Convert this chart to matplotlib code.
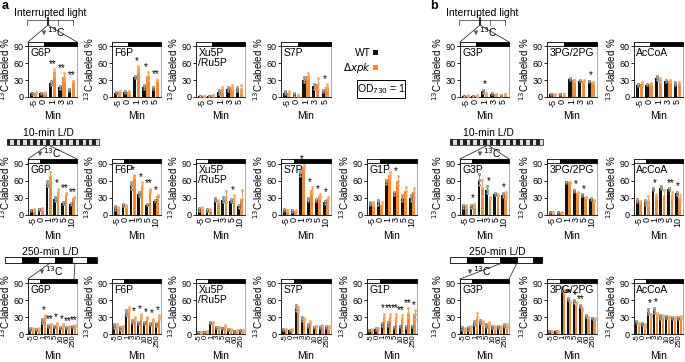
import numpy as np
import matplotlib.pyplot as plt
from matplotlib.patches import Rectangle

plt.rcParams['font.family'] = ['Liberation Sans', 'DejaVu Sans']

# --- Data (13C-labeled %, mean and spread) ---
min_il = ["-5", "0", "1", "3", "5"]
min_10 = ["-5", "0", "1", "3", "5", "10"]
min_250 = ["-5", "0", "1", "3", "5", "10", "60", "250"]

# interrupted light
wt_il = {"G6P": [7, 7, 25, 17, 12], "F6P": [8, 9, 35, 18, 16], "Xu5P": [1, 1, 9, 14, 14],
         "S7P": [8, 5, 31, 19, 11], "G3P": [1, 1, 10, 6, 2], "3PG": [5, 5, 32, 29, 28],
         "AcCoA": [22, 22, 34, 28, 24]}
wt_il_err = {"G6P": [1, 1, 3, 3, 2], "F6P": [1, 1, 2, 3, 1], "Xu5P": [1, 1, 3, 3, 3],
             "S7P": [2, 3, 5, 4, 2], "G3P": [1, 1, 3, 1, 1], "3PG": [1, 1, 1, 1, 1],
             "AcCoA": [2, 1, 4, 2, 2]}
ko_il = {"G6P": [8, 8, 45, 36, 28], "F6P": [9, 9, 51, 37, 30], "Xu5P": [1, 3, 14, 18, 15],
         "S7P": [8, 3, 38, 24, 18], "G3P": [2, 2, 6, 5, 5], "3PG": [5, 5, 30, 28, 26],
         "AcCoA": [24, 24, 30, 28, 25]}
ko_il_err = {"G6P": [1, 1, 5, 6, 1], "F6P": [1, 1, 4, 7, 1], "Xu5P": [1, 1, 3, 3, 6],
             "S7P": [2, 1, 5, 10, 5], "G3P": [1, 1, 2, 1, 1], "3PG": [1, 1, 1, 2, 1],
             "AcCoA": [2, 1, 3, 2, 1]}
stars_il = {"G6P": ["", "", "**", "**", "**"], "F6P": ["", "", "*", "*", "**"],
            "S7P": ["", "", "", "", "*"], "G3P": ["", "", "*", "", ""],
            "3PG": ["", "", "", "", "*"]}

# 10-min L/D
wt_10 = {"G6P": [8, 10, 55, 28, 21, 19], "F6P": [12, 17, 52, 37, 18, 25],
         "Xu5P": [10, 9, 27, 27, 25, 15], "S7P": [9, 7, 74, 27, 26, 22],
         "G1P": [20, 22, 58, 38, 30, 30], "G3P": [15, 15, 62, 44, 37, 35],
         "3PG": [5, 5, 57, 42, 35, 28], "AcCoA": [25, 22, 45, 48, 45, 38]}
wt_10_err = {"G6P": [1, 1, 4, 3, 1, 2], "F6P": [3, 2, 6, 3, 1, 1], "Xu5P": [3, 2, 3, 5, 3, 3],
             "S7P": [2, 1, 5, 2, 2, 2], "G1P": [2, 5, 3, 3, 5, 5], "G3P": [3, 3, 9, 6, 2, 4],
             "3PG": [1, 1, 1, 2, 1, 1], "AcCoA": [3, 4, 2, 2, 2, 3]}
ko_10 = {"G6P": [9, 11, 68, 40, 37, 30], "F6P": [10, 16, 68, 52, 43, 33],
         "Xu5P": [10, 9, 25, 32, 30, 28], "S7P": [8, 7, 84, 44, 33, 28],
         "G1P": [20, 18, 70, 60, 42, 40], "G3P": [15, 17, 48, 30, 35, 35],
         "3PG": [5, 5, 57, 39, 31, 26], "AcCoA": [23, 25, 33, 33, 35, 30]}
ko_10_err = {"G6P": [1, 1, 7, 6, 1, 1], "F6P": [4, 2, 2, 5, 3, 2], "Xu5P": [4, 1, 2, 10, 5, 15],
             "S7P": [1, 1, 4, 5, 3, 3], "G1P": [3, 4, 6, 8, 7, 8], "G3P": [3, 3, 14, 2, 2, 5],
             "3PG": [1, 1, 1, 1, 1, 1], "AcCoA": [2, 8, 3, 10, 6, 5]}
stars_10 = {"G6P": ["", "", "", "*", "**", "**"], "F6P": ["", "", "*", "*", "**", "*"],
            "Xu5P": ["", "", "", "", "*", ""], "S7P": ["", "", "*", "*", "*", "*"],
            "G1P": ["", "", "*", "*", "", ""], "G3P": ["", "*", "", "*", "", "*"],
            "3PG": ["", "", "", "*", "*", ""], "AcCoA": ["", "", "*", "", "**", "*"]}

# 250-min L/D
wt_250 = {"G6P": [9, 8, 23, 14, 13, 11, 11, 13], "F6P": [14, 10, 38, 22, 20, 20, 18, 17],
          "Xu5P": [3, 3, 20, 12, 10, 8, 5, 6], "S7P": [8, 7, 46, 27, 15, 12, 13, 13],
          "G1P": [7, 9, 17, 18, 12, 14, 13, 14], "G3P": [10, 10, 20, 22, 15, 12, 12, 15],
          "3PG": [5, 5, 80, 62, 58, 50, 32, 28], "AcCoA": [22, 18, 40, 42, 30, 30, 28, 28]}
wt_250_err = {"G6P": [1, 1, 3, 2, 1, 1, 1, 1], "F6P": [3, 2, 4, 3, 2, 2, 2, 2],
              "Xu5P": [1, 1, 1, 1, 1, 1, 1, 1], "S7P": [1, 1, 5, 3, 2, 1, 2, 2],
              "G1P": [1, 1, 2, 3, 1, 1, 2, 1], "G3P": [2, 2, 4, 3, 2, 2, 2, 2],
              "3PG": [1, 1, 3, 2, 2, 2, 1, 1], "AcCoA": [2, 2, 5, 5, 3, 2, 2, 2]}
ko_250 = {"G6P": [9, 9, 30, 17, 18, 15, 13, 15], "F6P": [15, 12, 45, 28, 32, 28, 25, 30],
          "Xu5P": [3, 4, 20, 12, 14, 8, 6, 6], "S7P": [8, 8, 45, 25, 20, 14, 14, 13],
          "G1P": [8, 10, 30, 30, 30, 28, 38, 35], "G3P": [9, 12, 30, 20, 18, 13, 13, 15],
          "3PG": [5, 5, 75, 57, 55, 45, 30, 27], "AcCoA": [18, 15, 33, 35, 32, 30, 28, 30]}
ko_250_err = {"G6P": [1, 1, 3, 1, 2, 2, 1, 1], "F6P": [2, 2, 4, 3, 3, 2, 2, 3],
              "Xu5P": [1, 1, 1, 1, 2, 1, 1, 1], "S7P": [1, 1, 4, 3, 3, 1, 2, 2],
              "G1P": [1, 1, 6, 6, 6, 6, 8, 8], "G3P": [2, 3, 8, 3, 3, 2, 2, 2],
              "3PG": [1, 1, 3, 2, 2, 2, 1, 1], "AcCoA": [2, 2, 3, 3, 2, 2, 2, 2]}
stars_250 = {"G6P": ["", "", "*", "**", "*", "*", "**", "**"],
             "F6P": ["", "", "", "*", "*", "*", "*", "*"],
             "G1P": ["", "", "*", "**", "**", "**", "**", "*"],
             "3PG": ["", "", "", "**", "*", "**", "", ""],
             "AcCoA": ["", "", "*", "*", "", "", "", ""]}

titles = {"G6P": "G6P", "F6P": "F6P", "Xu5P": "Xu5P\n/Ru5P", "S7P": "S7P", "G1P": "G1P",
          "G3P": "G3P", "3PG": "3PG/2PG", "AcCoA": "AcCoA"}

WT_C = "#111111"
KO_C = "#F28A3C"

W, H = 685, 362
fig = plt.figure(figsize=(W / 100, H / 100), dpi=100)

# column x-extents in pixels
cols = {"G6P": (28, 77), "F6P": (112, 161), "Xu5P": (196, 245), "S7P": (281, 331),
        "G1P": (367, 417), "G3P": (460, 509), "3PG": (547, 597), "AcCoA": (634, 683)}
rows = [  # (top px, bottom px, panels, data..., white fraction of header)
    (42, 97, ["G6P", "F6P", "Xu5P", "S7P", "G3P", "3PG", "AcCoA"],
     min_il, wt_il, wt_il_err, ko_il, ko_il_err, stars_il, 0.33),
    (159, 215, ["G6P", "F6P", "Xu5P", "S7P", "G1P", "G3P", "3PG", "AcCoA"],
     min_10, wt_10, wt_10_err, ko_10, ko_10_err, stars_10, 0.25),
    (279, 334, ["G6P", "F6P", "Xu5P", "S7P", "G1P", "G3P", "3PG", "AcCoA"],
     min_250, wt_250, wt_250_err, ko_250, ko_250_err, stars_250, 0.25),
]

for top, bot, names, cats, wt, wte, ko, koe, stars, wfrac in rows:
    for name in names:
        x0, x1 = cols[name]
        ax = fig.add_axes([x0 / W, 1 - bot / H, (x1 - x0) / W, (bot - top) / H])
        n = len(cats)
        x = np.arange(n)
        bw = 0.36
        m1, e1 = np.array(wt[name]), np.array(wte[name])
        m2, e2 = np.array(ko[name]), np.array(koe[name])
        ax.bar(x - 0.2, m1, bw, color=WT_C, zorder=2)
        ax.bar(x + 0.2, m2, bw, color=KO_C, zorder=2)
        ax.errorbar(x - 0.2, m1, yerr=e1, fmt="none", ecolor="#888888", elinewidth=0.6, zorder=3)
        ax.errorbar(x + 0.2, m2, yerr=e2, fmt="none", ecolor=KO_C, elinewidth=0.6, zorder=3)
        for s in (-1, 0, 1):
            ax.scatter(x - 0.2, m1 + s * e1, s=3, facecolor="#bbbbbb", edgecolor="#444444",
                       linewidth=0.3, zorder=4)
            ax.scatter(x + 0.2, m2 + s * e2, s=3, facecolor="#F7A767", edgecolor="#F7A767",
                       linewidth=0.3, zorder=4)
        for i, st in enumerate(stars.get(name, [""] * n)):
            if st:
                ax.text(x[i], max(m1[i] + e1[i], m2[i] + e2[i]) + 0.5, st, ha="center",
                        va="bottom", fontsize=7, zorder=5)
        ax.set_xlim(-0.6, n - 0.4)
        ax.set_ylim(0, 98)
        ax.set_yticks([0, 30, 60, 90])
        ax.set_xticks(x)
        ax.set_xticklabels(cats, rotation=90, fontsize=6.5 if n < 8 else 5.5)
        ax.tick_params(axis="y", labelsize=6.5, length=2, width=0.6, pad=1)
        ax.tick_params(axis="x", length=0, pad=1.5)
        if n == 8:
            ax.tick_params(axis="x", pad=0.5)
        ax.set_xlabel("Min", fontsize=7.5, labelpad=3)
        ax.set_ylabel("$^{13}$C-labeled %", fontsize=7, labelpad=1)
        ax.spines["top"].set_visible(False)
        ax.spines["right"].set_color("#999999")
        for sp in ("left", "bottom", "right"):
            ax.spines[sp].set_linewidth(0.6)
        # light/dark header bar
        ax.add_patch(Rectangle((0, 0.925), wfrac, 0.075, transform=ax.transAxes,
                               facecolor="white", edgecolor="black", lw=0.6, clip_on=False, zorder=6))
        ax.add_patch(Rectangle((wfrac, 0.925), 1 - wfrac, 0.075, transform=ax.transAxes,
                               facecolor="black", edgecolor="black", lw=0.6, clip_on=False, zorder=6))
        ax.text(0.05, 0.89, titles[name], transform=ax.transAxes, ha="left", va="top",
                fontsize=7.5, linespacing=1.0, zorder=6)

# --- overlay in pixel coordinates: schematics, legend, panel letters ---
ov = fig.add_axes([0, 0, 1, 1], zorder=10)
ov.set_xlim(0, W)
ov.set_ylim(H, 0)
ov.axis("off")
ov.patch.set_alpha(0)

ov.text(2, 6, "a", fontsize=9, fontweight="bold", va="center")
ov.text(430, 6, "b", fontsize=9, fontweight="bold", va="center")

ARROW_C = "#4a5a78"


def c13(xa, ya):
    ov.annotate("", xy=(xa, ya + 5), xytext=(xa, ya - 4),
                arrowprops=dict(arrowstyle="-|>", color=ARROW_C, lw=0.9, mutation_scale=5))
    ov.text(xa + 3, ya - 1, "$^{13}$C", fontsize=7.5, va="center", ha="left")


def interrupted(xl, xr, xc, ax_l, ax_r, top):
    ov.text((xl + xr) / 2, 13, "Interrupted light", fontsize=7.5, ha="center", va="center")
    ov.plot([xl, xr], [20, 20], color="#555555", lw=0.6)
    for xt in (xl, xl + 0.68 * (xr - xl), xr):
        ov.plot([xt, xt], [20, 25], color="#555555", lw=0.6)
    ov.plot([xc, xc], [18, 25], color="black", lw=1.2)
    ov.plot([ax_l, xc, ax_r], [top, 25, top], color="#333333", lw=0.6)
    c13(xc - 4, 33)


def hatched(xl, xr, xc, ax_l, ax_r, top):
    ov.text(xc, 133, "10-min L/D", fontsize=7.5, ha="center", va="center")
    edges = np.linspace(xl, xr, 29)
    for i in range(28):
        ov.add_patch(Rectangle((edges[i], 139), edges[i + 1] - edges[i], 6,
                               facecolor="#222222" if i % 2 == 0 else "#dddddd",
                               edgecolor="none"))
    ov.add_patch(Rectangle((xl, 139), xr - xl, 6, facecolor="none", edgecolor="#333333", lw=0.6))
    ov.plot([ax_l, xc, ax_r], [top, 145, top], color="#333333", lw=0.6)
    c13(xc - 8, 154)


def blocks(edges, lx, rx, ax_l, ax_r, top, tx):
    ov.text(tx, 252, "250-min L/D", fontsize=7.5, ha="center", va="center")
    for i in range(len(edges) - 1):
        ov.add_patch(Rectangle((edges[i], 257), edges[i + 1] - edges[i], 6,
                               facecolor="white" if i % 2 == 0 else "black",
                               edgecolor="black", lw=0.6))
    ov.plot([ax_l, lx], [top, 263], color="#333333", lw=0.6)
    ov.plot([ax_r, rx], [top, 263], color="#333333", lw=0.6)


interrupted(27, 73, 48, 28, 77, 42)
interrupted(459, 505, 480, 460, 509, 42)
hatched(7, 99, 48, 28, 77, 159)
hatched(450, 543, 488, 460, 509, 159)
blocks([5, 22, 38, 55, 72, 87, 97], 50, 75, 28, 74, 279, 50)
c13(42, 272)
blocks([450, 467, 483, 500, 517, 533, 542], 502, 517, 460, 509, 279, 497)
c13(470, 272)

# legend
ov.text(371, 53, "WT", fontsize=7.5, ha="right", va="center")
ov.add_patch(Rectangle((373, 50), 5, 5, facecolor=WT_C, edgecolor="none"))
ov.text(371, 68, r"$\Delta$$\it{xpk}$", fontsize=7.5, ha="right", va="center")
ov.add_patch(Rectangle((373, 65), 5, 5, facecolor=KO_C, edgecolor="none"))
ov.add_patch(Rectangle((357, 80), 48, 18, facecolor="white", edgecolor="black", lw=0.7))
ov.text(381, 89, "OD$_{730}$ = 1", fontsize=7.5, ha="center", va="center")

fig.savefig("out.png", dpi=100)
